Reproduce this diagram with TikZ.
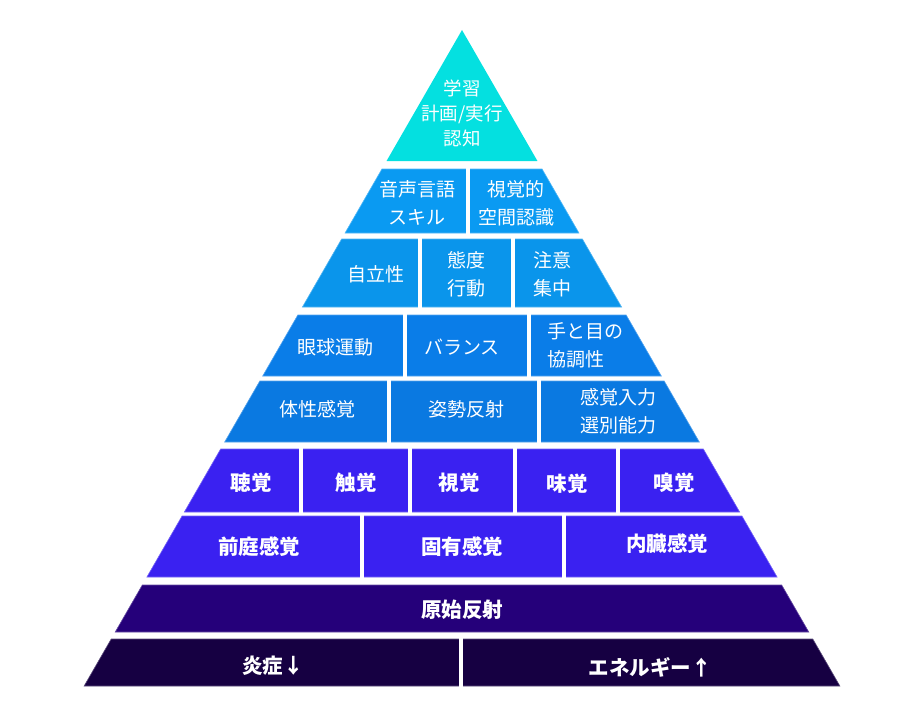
\documentclass[tikz,border=0pt]{standalone}
\usepackage{fontspec}
\newfontfamily\jpfont{Noto Sans CJK JP}

\definecolor{tipcyan}{HTML}{04E0E0}
\definecolor{skyblue}{HTML}{0A9AF2}
\definecolor{midblue}{HTML}{0A7DE8}
\definecolor{violet}{HTML}{3A21F1}
\definecolor{indigo}{HTML}{25007A}
\definecolor{nightblue}{HTML}{160042}

% one band of the pyramid: top, bottom, colour
\newcommand\band[3]{%
  \filldraw[fill=#3, draw=#3!70!white, line width=0.6pt]
    ({\cx-\sl*(#1-\ay)},#1) -- ({\cx+\sl*(#1-\ay)},#1) --
    ({\cx+\sl*(#2-\ay)},#2) -- ({\cx-\sl*(#2-\ay)},#2) -- cycle;}

\begin{document}
\begin{tikzpicture}[x=1pt, y=-1pt,
    celltext/.style={text=white, align=center, inner sep=0pt,
      font=\jpfont\fontsize{19}{28}\selectfont},
    basetext/.style={celltext, font=\jpfont\bfseries\fontsize{20.5}{28}\selectfont},
    gap/.style={white, line width=4pt}]

  % Definitions
  \def\cx{462}   % centre line of the pyramid
  \def\ay{30}    % height of the apex
  \def\sl{0.576} % half-width per unit of height

  \useasboundingbox (0,0) rectangle (921,725);

  % Draw commands
  \fill[tipcyan] (\cx,\ay) -- ({\cx+\sl*(161-\ay)},161) -- ({\cx-\sl*(161-\ay)},161) -- cycle;
  \band{169}{233}{skyblue}
  \band{239}{307}{skyblue!97!black}
  \band{315}{376}{midblue}
  \band{381}{442}{midblue!97!black}
  \band{449}{512}{violet}
  \band{516}{577}{violet}
  \band{585}{632}{indigo}
  \band{639}{686}{nightblue}

  % Cell dividers
  \draw[gap] (467.5,167) -- (467.5,235);
  \foreach \x in {420,513} \draw[gap] (\x,237) -- (\x,309);
  \foreach \x in {404.5,529} \draw[gap] (\x,313) -- (\x,378);
  \foreach \x in {389,539} \draw[gap] (\x,379) -- (\x,444);
  \foreach \x in {301,410,514.5,618} \draw[gap] (\x,447) -- (\x,514);
  \foreach \x in {361.5,564} \draw[gap] (\x,514) -- (\x,579);
  \draw[gap] (461,637) -- (461,688);

  % Labels
  \node[celltext, font=\jpfont\fontsize{18.5}{25}\selectfont] (learn) at (462,113) {学習\\計画/実行\\認知};

  \node[celltext] (speech) at (417,203) {音声言語\\スキル};
  \node[celltext] (spatial) at (516,203) {視覚的\\空間認識};

  \node[celltext] (indep) at (376,274) {自立性};
  \node[celltext] (attitude) at (466,274) {態度\\行動};
  \node[celltext] (focus) at (552,274) {注意\\集中};

  \node[celltext] (eyemove) at (335,347) {眼球運動};
  \node[celltext] (balance) at (462,347) {バランス};
  \node[celltext, align=left] (handeye) at (585,345) {手と目の\\協調性};

  \node[celltext] (somato) at (317,409) {体性感覚};
  \node[celltext] (posture) at (466,409) {姿勢反射};
  \node[celltext] (filter) at (618,411) {感覚入力\\選別能力};

  \node[basetext] (hearing) at (251,483) {聴覚};
  \node[basetext] (touch) at (356,483) {触覚};
  \node[basetext] (vision) at (459,483) {視覚};
  \node[basetext] (taste) at (567,484) {味覚};
  \node[basetext] (smell) at (674,483) {嗅覚};

  \node[basetext] (vestib) at (259,547) {前庭感覚};
  \node[basetext] (proprio) at (462,547) {固有感覚};
  \node[basetext] (intero) at (667,544) {内臓感覚};

  \node[basetext] (reflex) at (462,610) {原始反射};

  \node[basetext] (inflam) at (273,666) {炎症↓};
  \node[basetext] (energy) at (650,667) {エネルギー↑};

\end{tikzpicture}
\end{document}
